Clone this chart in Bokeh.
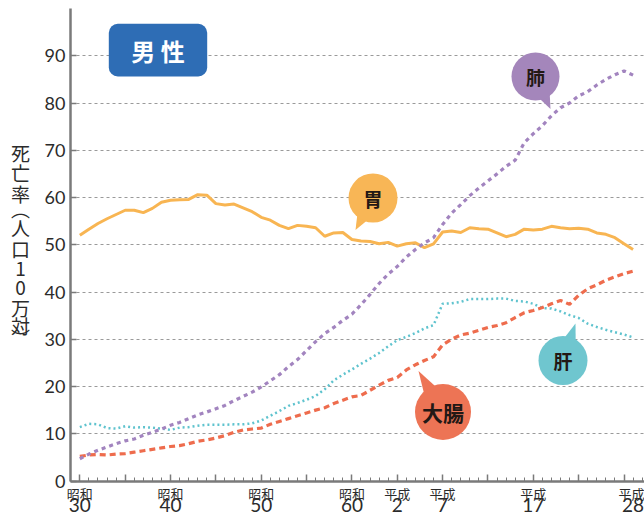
import math
from bokeh.plotting import figure
from bokeh.models import (Range1d, FixedTicker, LinearAxis, Label, BoxAnnotation,
                          ColumnDataSource)
from bokeh.embed import file_html
from bokeh.resources import INLINE

# ---------------- data ----------------
years = list(range(1955, 2017))

stomach = [52.0, 53.3, 54.5, 55.5, 56.4, 57.3, 57.3, 56.8, 57.7, 59.0,
           59.4, 59.5, 59.6, 60.6, 60.5, 58.7, 58.4, 58.6, 57.8, 57.0,
           55.8, 55.2, 54.1, 53.4, 54.1, 53.9, 53.6, 51.8, 52.5, 52.6,
           51.1, 50.8, 50.7, 50.2, 50.5, 49.7, 50.2, 50.4, 49.4, 50.2,
           52.7, 52.9, 52.6, 53.6, 53.4, 53.3, 52.5, 51.7, 52.2, 53.3,
           53.1, 53.3, 53.9, 53.6, 53.4, 53.5, 53.3, 52.5, 52.2, 51.5,
           50.2, 49.0]

lung = [4.7, 5.7, 6.5, 7.2, 7.9, 8.5, 8.9, 9.7, 10.3, 11.0,
        11.8, 12.4, 13.2, 14.0, 14.6, 15.3, 16.0, 17.0, 17.9, 18.8,
        19.9, 21.2, 22.5, 24.2, 25.7, 27.6, 29.5, 31.2, 32.5, 34.0,
        35.3, 37.3, 39.5, 41.8, 43.8, 45.4, 47.4, 49.0, 50.4, 51.5,
        54.3, 56.7, 58.5, 60.4, 62.0, 63.5, 65.0, 66.6, 67.9, 71.6,
        73.5, 75.2, 77.3, 79.0, 80.0, 81.5, 82.4, 83.8, 85.0, 86.0,
        86.8, 85.9]

liver = [11.4, 12.1, 12.0, 11.2, 11.1, 11.6, 11.3, 11.4, 11.3, 11.1,
         10.8, 11.3, 11.4, 11.7, 11.9, 11.9, 11.9, 12.0, 12.0, 12.2,
         12.8, 13.8, 14.8, 15.9, 16.5, 17.2, 18.0, 19.4, 21.3, 22.5,
         23.6, 24.8, 25.9, 27.1, 28.5, 29.8, 30.5, 31.3, 32.3, 33.0,
         37.5, 37.6, 37.9, 38.5, 38.5, 38.5, 38.6, 38.6, 38.1, 38.0,
         37.5, 36.6, 36.5, 35.9, 35.1, 34.5, 33.3, 32.6, 32.0, 31.5,
         31.0, 30.4]

colorectal = [5.2, 5.5, 5.6, 5.5, 5.7, 5.8, 6.1, 6.4, 6.7, 7.0,
              7.3, 7.5, 7.9, 8.4, 8.7, 9.1, 9.6, 10.3, 10.8, 11.0,
              11.2, 12.0, 12.6, 13.2, 13.8, 14.4, 15.0, 15.5, 16.4, 17.1,
              17.8, 18.1, 19.2, 20.3, 21.3, 21.9, 23.5, 24.6, 25.5, 26.3,
              28.8, 30.0, 30.9, 31.3, 31.9, 32.5, 32.9, 33.5, 34.6, 35.6,
              36.1, 36.7, 37.5, 38.2, 37.4, 39.3, 40.7, 41.5, 42.5, 43.2,
              43.9, 44.4]

label_years = [1955, 1965, 1975, 1985, 1990, 1995, 2005, 2016]
era_labels = ["昭和", "昭和", "昭和", "昭和", "平成", "平成", "平成", "平成"]
era_numbers = ["30", "40", "50", "60", "2", "7", "17", "28"]
major_tick_years = list(range(1955, 2016, 5))
minor_tick_years = list(range(1954, 2018))
y_ticks = [0, 10, 20, 30, 40, 50, 60, 70, 80, 90]
grid_ticks = [10, 20, 30, 40, 50, 60, 70, 80, 90]

title_text = "男 性"
y_title_chars = ["死", "亡", "率", "︵", "人", "口", "1", "0", "万", "対", "︶"]

# ---------------- layout (whole canvas is the frame) ----------------
W, H = 644, 515
SPINE_PX, SPINE_YEAR = 70, 1953.97      # y-axis position
BASE_PY = 480.5                          # x-axis (value 0) position
PXX = 574 / 63.29                        # px per year
PXY = 472.5 / 100                        # px per unit
XC0 = SPINE_YEAR - SPINE_PX / PXX
XC1 = XC0 + W / PXX
YC1 = BASE_PY / PXY
YC0 = YC1 - H / PXY


def pg(px, py):
    """picture pixel -> data coordinates"""
    return XC0 + px / PXX, YC1 - py / PXY


CJK = "Noto Sans CJK JP"
DARK = "#2b2b2b"
AXIS = "#7a7a7a"

p = figure(width=W, height=H, output_backend="svg", toolbar_location=None,
           x_range=Range1d(XC0, XC1), y_range=Range1d(YC0, YC1),
           min_border=0)
p.outline_line_color = None
p.background_fill_color = "white"
p.border_fill_color = "white"

# grid (only right of the y axis)
p.xgrid.visible = False
p.ygrid.ticker = FixedTicker(ticks=grid_ticks)
p.ygrid.cross_bounds = (SPINE_YEAR, XC1)
p.ygrid.grid_line_color = "#9a9a9a"
p.ygrid.grid_line_dash = "3 3"
p.ygrid.grid_line_width = 1

# y axis
ya = p.yaxis[0]
ya.fixed_location = SPINE_YEAR
ya.bounds = (0, 100)
ya.ticker = FixedTicker(ticks=y_ticks, minor_ticks=[])
ya.axis_line_color = AXIS
ya.axis_line_width = 2.5
ya.major_tick_line_color = AXIS
ya.major_tick_line_width = 1.5
ya.major_tick_in = 6
ya.major_tick_out = 0
ya.minor_tick_line_color = None
ya.major_label_text_font = "Lato"
ya.major_label_text_font_size = "18px"
ya.major_label_text_color = DARK
ya.major_label_standoff = 5

# x axis: era labels, yearly minor ticks
xa = p.xaxis[0]
xa.fixed_location = 0
xa.bounds = (SPINE_YEAR, XC1)
xa.ticker = FixedTicker(ticks=label_years, minor_ticks=minor_tick_years)
xa.major_label_overrides = {y: t for y, t in zip(label_years, era_labels)}
xa.axis_line_color = AXIS
xa.axis_line_width = 2.5
xa.major_tick_line_color = None
xa.major_tick_in = 0
xa.major_tick_out = 0
xa.minor_tick_line_color = AXIS
xa.minor_tick_line_width = 1
xa.minor_tick_in = 4
xa.minor_tick_out = 0
xa.major_label_text_font = CJK
xa.major_label_text_font_size = "13px"
xa.major_label_text_color = DARK
xa.major_label_standoff = 3

# second x axis: era numbers, 5-year ticks
ax_num = LinearAxis(ticker=FixedTicker(ticks=label_years, minor_ticks=major_tick_years),
                    major_label_overrides={y: t for y, t in zip(label_years, era_numbers)},
                    fixed_location=0, bounds=(SPINE_YEAR, XC1),
                    axis_line_color=None, major_tick_line_color=None,
                    major_tick_in=0, major_tick_out=0,
                    minor_tick_line_color=AXIS, minor_tick_line_width=1.5,
                    minor_tick_in=7, minor_tick_out=0,
                    major_label_text_font="Lato", major_label_text_font_size="19px",
                    major_label_text_color=DARK, major_label_standoff=17)
p.add_layout(ax_num, "below")

# ---------------- lines ----------------
src = ColumnDataSource(dict(year=years, stomach=stomach, lung=lung,
                            liver=liver, colorectal=colorectal))
p.line("year", "stomach", source=src, line_color="#f8b552", line_width=3)
p.line("year", "liver", source=src, line_color="#5fc3ce", line_width=2.5,
       line_dash="2 3")
p.line("year", "colorectal", source=src, line_color="#ee6c4d", line_width=3.2,
       line_dash="6 4")
p.line("year", "lung", source=src, line_color="#a284bf", line_width=3.2,
       line_dash="4 4")

# ---------------- bubbles ----------------
bubbles = [
    ("肺", "#a486bb", (535, 76), 24, (550, 108.5), "19px"),
    ("胃", "#f8b656", (372.5, 197.5), 24.5, (355, 229.5), "19px"),
    ("肝", "#6fc6cf", (562.5, 360), 24.5, (575, 323), "19px"),
    ("大腸", "#ed7455", (442.5, 411.5), 28, (418, 370.5), "21px"),
]
for txt, col, (cx, cy), r, (tx, ty), fs in bubbles:
    ang = math.atan2(ty - cy, tx - cx)
    pts = [(tx, ty)]
    for d in (-0.33, 0.33):
        pts.append((cx + 0.85 * r * math.cos(ang + d), cy + 0.85 * r * math.sin(ang + d)))
    dpts = [pg(a, b) for a, b in pts]
    p.patch([q[0] for q in dpts], [q[1] for q in dpts], fill_color=col, line_color=None)
    dcx, dcy = pg(cx, cy)
    p.scatter([dcx], [dcy], marker="circle", size=2 * r, fill_color=col, line_color=None)
    p.add_layout(Label(x=dcx, y=dcy, text=txt, text_align="center",
                       text_baseline="middle", text_font=CJK, text_font_size=fs,
                       text_font_style="bold", text_color="#231815"))

# ---------------- title box ----------------
bl, bt = pg(108.3, 23.3)
br, bb = pg(206.7, 76)
p.add_layout(BoxAnnotation(left=bl, right=br, top=bt, bottom=bb,
                           fill_color="#2e6db5", fill_alpha=1, line_color=None,
                           border_radius=9))
tx_, ty_ = pg(157.5, 50)
p.add_layout(Label(x=tx_, y=ty_, text=title_text, text_align="center",
                   text_baseline="middle", text_font=CJK, text_font_size="24px",
                   text_font_style="bold", text_color="white"))

# ---------------- vertical y title ----------------
ytitle_y = [151.7, 171.7, 193.3, 208, 226.7, 248.3, 268.5, 287.5, 306.7, 325, 336.7]
for ch, yy in zip(y_title_chars, ytitle_y):
    lx, ly = pg(20, yy)
    p.add_layout(Label(x=lx, y=ly, text=ch, text_align="center",
                       text_baseline="middle", text_font=CJK, text_font_size="19px",
                       text_color=DARK))

open("out.html", "w").write(file_html(p, INLINE))
